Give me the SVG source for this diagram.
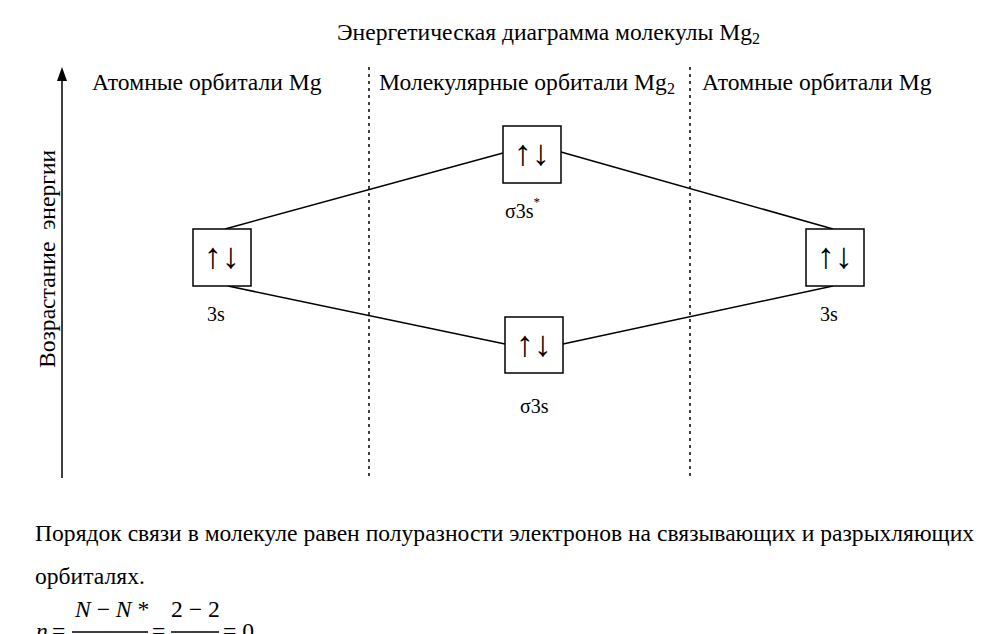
<svg xmlns="http://www.w3.org/2000/svg" width="1000" height="634" viewBox="0 0 1000 634">
<defs>
<style>
text{font-family:"Liberation Serif","Times New Roman","DejaVu Serif",serif;fill:#000}
.t{font-size:23.6px}
.lb{font-size:20px}
.ar{font-size:36px}
.box{fill:#fff;stroke:#000;stroke-width:1.5}
.ln{stroke:#000;stroke-width:1.5;fill:none}
.dash{stroke:#000;stroke-width:1.5;stroke-dasharray:3 4}
</style>
</defs>
<rect width="1000" height="634" fill="#fff"/>
<text class="t" x="337" y="40">Энергетическая диаграмма молекулы Mg<tspan font-size="16" dy="4">2</tspan></text>
<g id="axis">
<line class="ln" x1="62" y1="478" x2="62" y2="80"/>
<path d="M62 67 L67 81 L57 81 Z" fill="#000"/>
<text class="t" transform="translate(55,368) rotate(-90)" xml:space="preserve">Возрастание  энергии</text>
</g>
<g id="separators">
<line class="dash" x1="369" y1="67" x2="369" y2="478"/>
<line class="dash" x1="690" y1="67" x2="690" y2="478"/>
</g>
<g id="headers">
<text class="t" x="92" y="90">Атомные орбитали Mg</text>
<text class="t" x="379" y="90">Молекулярные орбитали Mg<tspan font-size="16" dy="4">2</tspan></text>
<text class="t" x="702" y="90">Атомные орбитали Mg</text>
</g>
<g id="connectors">
<line class="ln" x1="225" y1="229" x2="503" y2="153"/>
<line class="ln" x1="561" y1="152" x2="833" y2="229"/>
<line class="ln" x1="228" y1="286" x2="505" y2="344"/>
<line class="ln" x1="563" y1="344" x2="833" y2="286"/>
</g>
<g id="ao-left">
<rect class="box" x="193" y="229" width="58" height="57"/>
<text class="ar" x="222" y="268" text-anchor="middle">↑↓</text>
<text class="lb" x="207" y="321">3s</text>
</g>
<g id="mo-antibonding">
<rect class="box" x="503" y="126" width="58" height="57"/>
<text class="ar" x="532" y="165" text-anchor="middle">↑↓</text>
<text class="lb" x="505" y="218">σ3s<tspan font-size="13" dy="-12">*</tspan></text>
</g>
<g id="mo-bonding">
<rect class="box" x="505" y="317" width="58" height="56"/>
<text class="ar" x="534" y="356" text-anchor="middle">↑↓</text>
<text class="lb" x="520" y="413">σ3s</text>
</g>
<g id="ao-right">
<rect class="box" x="806" y="229" width="58" height="57"/>
<text class="ar" x="835" y="268" text-anchor="middle">↑↓</text>
<text class="lb" x="820" y="321">3s</text>
</g>
<g id="caption">
<text class="t" x="35" y="541">Порядок связи в молекуле равен полуразности электронов на связывающих и разрыхляющих</text>
<text class="t" x="35" y="584">орбиталях.</text>
</g>
<g id="formula">
<text class="t" x="36" y="639" font-style="italic">n</text>
<text class="t" x="52" y="639">=</text>
<text class="t" x="75" y="617"><tspan font-style="italic">N</tspan> − <tspan font-style="italic">N</tspan> *</text>
<line class="ln" x1="72" y1="632" x2="148" y2="632" stroke-width="1.2"/>
<text class="t" x="152" y="639">=</text>
<text class="t" x="171" y="617">2 − 2</text>
<line class="ln" x1="171" y1="632" x2="219" y2="632" stroke-width="1.2"/>
<text class="t" x="223" y="639">= 0</text>
</g>
</svg>
